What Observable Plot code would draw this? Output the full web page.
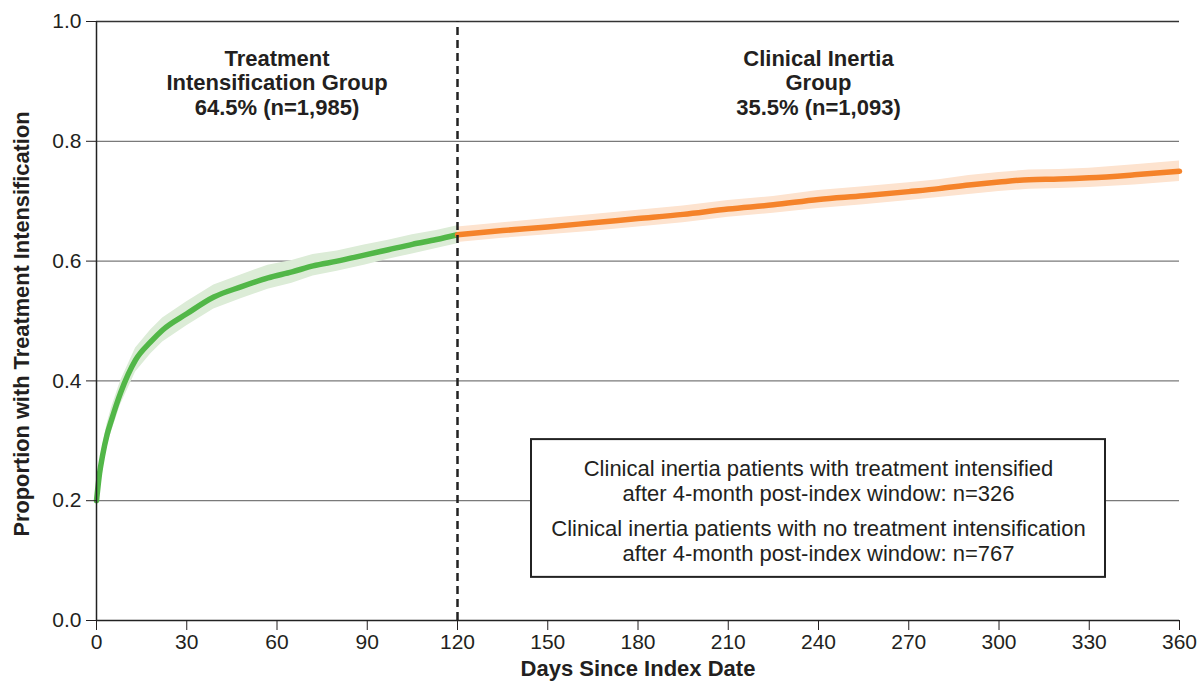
<!DOCTYPE html>
<html>
<head>
<meta charset="utf-8">
<script src="https://cdn.jsdelivr.net/npm/d3@7"></script>
<script src="https://cdn.jsdelivr.net/npm/@observablehq/plot@0.6"></script>
<style>
  body { margin: 0; background: #fff; }
  #chart svg { display: block; }
</style>
</head>
<body>
<div id="chart"></div>
<script>
// ---- Data ----
const greenDays  = [0, 1, 2, 3.5, 5, 8, 13, 18, 22, 30, 39, 48, 57, 65, 72, 80, 89, 97, 105, 113, 120];
const greenProp  = [0.200, 0.245, 0.275, 0.310, 0.335, 0.380, 0.435, 0.465, 0.485, 0.512, 0.540, 0.557, 0.572, 0.582, 0.592, 0.600, 0.610, 0.619, 0.628, 0.636, 0.644];
const greenLower = [0.195, 0.233, 0.260, 0.292, 0.315, 0.360, 0.415, 0.445, 0.465, 0.492, 0.520, 0.537, 0.553, 0.563, 0.575, 0.583, 0.593, 0.603, 0.612, 0.621, 0.629];
const greenUpper = [0.205, 0.257, 0.290, 0.328, 0.355, 0.400, 0.455, 0.485, 0.505, 0.532, 0.560, 0.577, 0.593, 0.601, 0.611, 0.617, 0.627, 0.635, 0.644, 0.651, 0.659];

const orangeDays  = [120, 135, 150, 165, 180, 195, 210, 225, 240, 255, 270, 280, 290, 300, 310, 320, 330, 345, 360];
const orangeProp  = [0.644, 0.651, 0.657, 0.664, 0.671, 0.678, 0.687, 0.694, 0.703, 0.709, 0.716, 0.721, 0.727, 0.732, 0.736, 0.737, 0.739, 0.744, 0.750];
const orangeLower = [0.631, 0.638, 0.644, 0.650, 0.657, 0.664, 0.673, 0.680, 0.688, 0.694, 0.701, 0.706, 0.711, 0.716, 0.720, 0.721, 0.723, 0.727, 0.733];
const orangeUpper = [0.657, 0.664, 0.671, 0.678, 0.685, 0.692, 0.701, 0.708, 0.718, 0.724, 0.731, 0.736, 0.743, 0.748, 0.752, 0.753, 0.755, 0.761, 0.767];

const xTicks = [0, 30, 60, 90, 120, 150, 180, 210, 240, 270, 300, 330, 360];
const yTicks = [0.0, 0.2, 0.4, 0.6, 0.8, 1.0];
const cutoffDay = [120];

const groupLabels = [
  {day: 60,  prop: 0.898, text: "Treatment\nIntensification Group\n64.5% (n=1,985)"},
  {day: 240, prop: 0.898, text: "Clinical Inertia\nGroup\n35.5% (n=1,093)"}
];
const noteBox = [{x1: 144.6, x2: 335.4, y1: 0.072, y2: 0.302}];
const noteLines = [
  {day: 240, prop: 0.233, text: "Clinical inertia patients with treatment intensified\nafter 4-month post-index window: n=326"},
  {day: 240, prop: 0.134, text: "Clinical inertia patients with no treatment intensification\nafter 4-month post-index window: n=767"}
];

// ---- Build tables ----
const green = greenDays.map((d, i) => ({day: d, p: greenProp[i], lo: greenLower[i], hi: greenUpper[i]}));
const orange = orangeDays.map((d, i) => ({day: d, p: orangeProp[i], lo: orangeLower[i], hi: orangeUpper[i]}));

const font = "'Liberation Sans', Arial, Helvetica, sans-serif";

const chart = Plot.plot({
  width: 1201,
  height: 686,
  marginLeft: 96,
  marginRight: 22,
  marginTop: 21,
  marginBottom: 66,
  style: {fontFamily: font, color: "#231f20", background: "#fff"},
  x: {domain: [0, 360]},
  y: {domain: [0, 1]},
  marks: [
    Plot.ruleY(yTicks.filter(d => d > 0 && d < 1), {stroke: "#7a7a7a", strokeWidth: 1.3}),
    Plot.ruleY([1.0], {stroke: "#333", strokeWidth: 1.5}),
    Plot.areaY(green, {x: "day", y1: "lo", y2: "hi", fill: "#dcecd7"}),
    Plot.areaY(orange, {x: "day", y1: "lo", y2: "hi", fill: "#fde3cf"}),
    Plot.line(green, {x: "day", y: "p", stroke: "#52b748", strokeWidth: 5.5, curve: "monotone-x"}),
    Plot.line(orange, {x: "day", y: "p", stroke: "#f5832a", strokeWidth: 5.5, curve: "monotone-x"}),
    Plot.ruleX(cutoffDay, {y1: 0, y2: 1, stroke: "#222", strokeWidth: 2.5, strokeDasharray: "8,5"}),
    Plot.rect(noteBox, {x1: "x1", x2: "x2", y1: "y1", y2: "y2", fill: "white", stroke: "#222", strokeWidth: 2}),
    Plot.text(noteLines, {x: "day", y: "prop", text: "text", fontSize: 22, lineHeight: 1.14, fill: "#231f20"}),
    Plot.text(groupLabels, {x: "day", y: "prop", text: "text", fontSize: 22, fontWeight: "bold", lineHeight: 1.1, fill: "#231f20"}),
    Plot.ruleX([0], {stroke: "#222", strokeWidth: 1.5}),
    Plot.ruleY([0], {stroke: "#222", strokeWidth: 1.5}),
    Plot.axisX({ticks: xTicks, tickSize: 10, tickPadding: 4, fontSize: 21, label: null, tickFormat: d3.format("d")}),
    Plot.axisY({ticks: yTicks, tickSize: 10, tickPadding: 5, fontSize: 21, label: null, tickFormat: d3.format(".1f")}),
    Plot.text(["Days Since Index Date"], {frameAnchor: "bottom", dy: 55, fontSize: 22, fontWeight: "bold", fill: "#231f20"}),
    Plot.text(["Proportion with Treatment Intensification"], {frameAnchor: "left", textAnchor: "middle", dx: -74, dy: 3, rotate: -90, fontSize: 21.8, fontWeight: "bold", fill: "#231f20"})
  ]
});
document.getElementById("chart").appendChild(chart);
</script>
</body>
</html>
